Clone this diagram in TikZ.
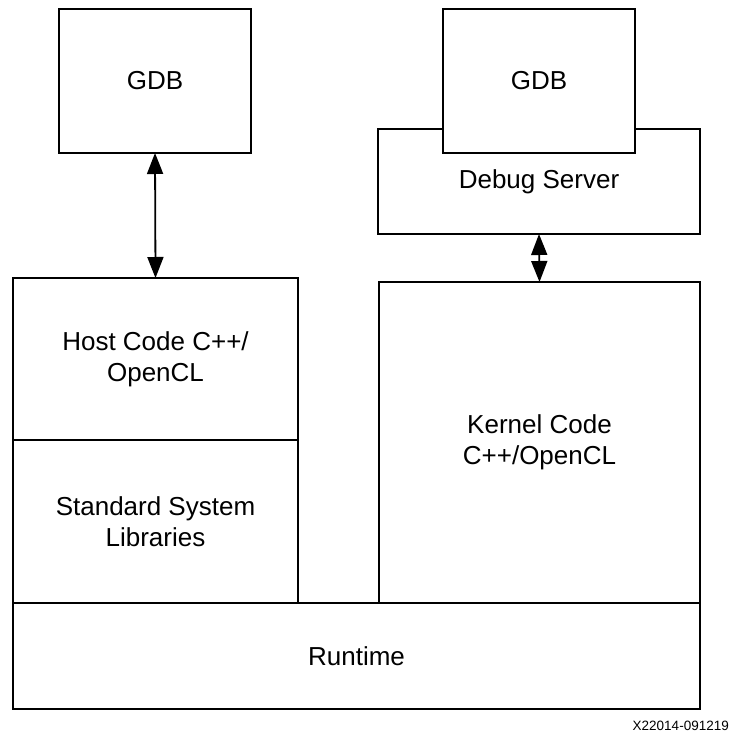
\documentclass[tikz,border=0pt]{standalone}
\usepackage{fontspec}
\setmainfont{Liberation Sans}
\usetikzlibrary{arrows.meta}
\begin{document}
\begin{tikzpicture}[x=1pt,y=-1pt,
  blk/.style={draw=black, line width=1.2pt, fill=white, inner sep=0pt, outer sep=0pt,
    align=center, font=\fontsize{26}{31}\selectfont},
  link/.style={line width=1.8pt, {Triangle[length=21pt,width=16pt]}-{Triangle[length=21pt,width=16pt]}}]
\useasboundingbox (0,0) rectangle (730,733);
% left column
\node[blk, minimum width=192pt, minimum height=144pt] (gdbL) at (155,81) {GDB};
\node[blk, minimum width=285pt, minimum height=162pt] (host) at (155.5,359) {Host Code C++/\\OpenCL};
\node[blk, minimum width=285pt, minimum height=163pt] (libs) at (155.5,521.5) {Standard System\\Libraries};
% right column
\node[blk, minimum width=322pt, minimum height=105pt] (dbg) at (539,181.5) {Debug Server};
\node[blk, minimum width=192pt, minimum height=144pt] (gdbR) at (539,81) {GDB};
\node[blk, minimum width=321pt, minimum height=321pt] (kern) at (539.5,442.5) {Kernel Code\\C++/OpenCL};
% runtime
\node[blk, minimum width=687pt, minimum height=106pt] (rt) at (356.5,656) {Runtime};
% connectors
\draw[link] (gdbL.south) -- (host.north);
\draw[link] (dbg.south) -- (kern.north);
% figure id
\node[anchor=base east, inner sep=0pt, font=\fontsize{13.5}{16}\selectfont] (fid) at (729,730) {X22014-091219};
\end{tikzpicture}
\end{document}
